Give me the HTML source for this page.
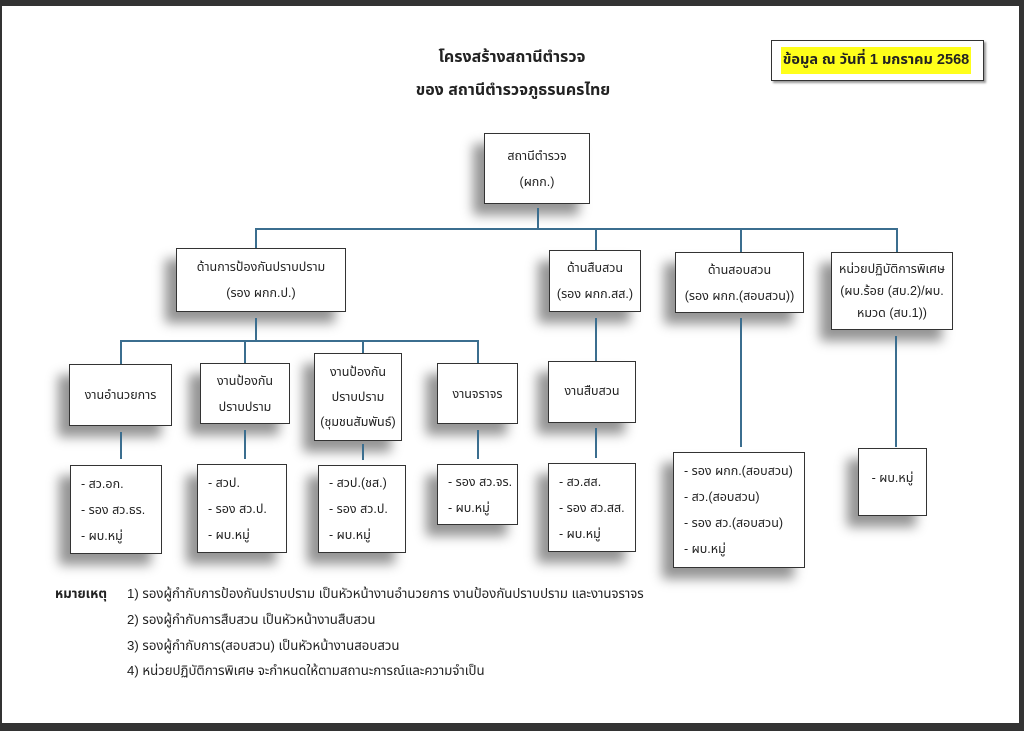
<!DOCTYPE html>
<html><head><meta charset="utf-8"><style>
html,body{margin:0;padding:0;}
body{width:1024px;height:731px;background:#333;position:relative;overflow:hidden;font-family:"Liberation Sans","Noto Sans Thai","Garuda","Loma",sans-serif;color:#222;}
.page{position:absolute;left:2px;top:6px;width:1017px;height:717px;background:#fff;}
.b{position:absolute;background:#fff;border:1.5px solid #333;box-sizing:border-box;box-shadow:-11px 11px 11px rgba(0,0,0,0.42);font-size:12.5px;text-align:center;display:flex;flex-direction:column;justify-content:center;line-height:26px;}
.l{text-align:left;padding-left:10px;}
.h{position:absolute;height:1.5px;background:#3b6e8f;}
.v{position:absolute;width:1.5px;background:#3b6e8f;}
.t{position:absolute;font-size:16px;font-weight:bold;text-align:center;width:400px;}
.n{position:absolute;font-size:13.2px;}
</style></head><body>
<div class="page"></div>
<div class="t" style="left:312px;top:46px">โครงสร้างสถานีตำรวจ</div>
<div class="t" style="left:313px;top:79px">ของ สถานีตำรวจภูธรนครไทย</div>
<div style="position:absolute;left:771px;top:40px;width:213px;height:41px;border:1.5px solid #333;box-sizing:border-box;box-shadow:2px 2px 2px #999;background:#fff"></div>
<div style="position:absolute;left:781px;top:47px;width:190px;height:27px;background:#ffff1a;font-weight:bold;font-size:14.5px;line-height:27px;text-align:center">ข้อมูล ณ วันที่ 1 มกราคม 2568</div>

<div class="b" style="left:484px;top:133px;width:106px;height:71px">สถานีตำรวจ<br>(ผกก.)</div>
<div class="v" style="left:537px;top:208px;height:21px"></div>
<div class="h" style="left:255px;top:228px;width:643px"></div>
<div class="v" style="left:255px;top:228px;height:20px"></div>
<div class="v" style="left:595px;top:228px;height:22px"></div>
<div class="v" style="left:740px;top:228px;height:24px"></div>
<div class="v" style="left:896px;top:228px;height:24px"></div>

<div class="b" style="left:176px;top:248px;width:170px;height:64px">ด้านการป้องกันปราบปราม<br>(รอง ผกก.ป.)</div>
<div class="b" style="left:549px;top:250px;width:92px;height:62px">ด้านสืบสวน<br>(รอง ผกก.สส.)</div>
<div class="b" style="left:675px;top:252px;width:129px;height:61px">ด้านสอบสวน<br>(รอง ผกก.(สอบสวน))</div>
<div class="b" style="left:831px;top:252px;width:122px;height:78px;line-height:22px">หน่วยปฏิบัติการพิเศษ<br>(ผบ.ร้อย (สบ.2)/ผบ.<br>หมวด (สบ.1))</div>

<div class="v" style="left:255px;top:318px;height:22px"></div>
<div class="h" style="left:120px;top:340px;width:358px"></div>
<div class="v" style="left:120px;top:340px;height:24px"></div>
<div class="v" style="left:244px;top:340px;height:23px"></div>
<div class="v" style="left:362px;top:340px;height:13px"></div>
<div class="v" style="left:477px;top:340px;height:23px"></div>
<div class="v" style="left:595px;top:318px;height:43px"></div>
<div class="v" style="left:740px;top:318px;height:129px"></div>
<div class="v" style="left:895px;top:336px;height:111px"></div>

<div class="b" style="left:69px;top:364px;width:103px;height:62px">งานอำนวยการ</div>
<div class="b" style="left:200px;top:363px;width:90px;height:61px">งานป้องกัน<br>ปราบปราม</div>
<div class="b" style="left:314px;top:353px;width:88px;height:88px;line-height:25px">งานป้องกัน<br>ปราบปราม<br>(ชุมชนสัมพันธ์)</div>
<div class="b" style="left:437px;top:363px;width:81px;height:61px">งานจราจร</div>
<div class="b" style="left:548px;top:361px;width:88px;height:62px;justify-content:flex-start;padding-top:16px">งานสืบสวน</div>

<div class="v" style="left:120px;top:432px;height:27px"></div>
<div class="v" style="left:244px;top:430px;height:29px"></div>
<div class="v" style="left:362px;top:444px;height:16px"></div>
<div class="v" style="left:477px;top:430px;height:29px"></div>
<div class="v" style="left:595px;top:428px;height:30px"></div>

<div class="b l" style="left:70px;top:465px;width:92px;height:89px">- สว.อก.<br>- รอง สว.ธร.<br>- ผบ.หมู่</div>
<div class="b l" style="left:197px;top:464px;width:90px;height:89px">- สวป.<br>- รอง สว.ป.<br>- ผบ.หมู่</div>
<div class="b l" style="left:318px;top:465px;width:88px;height:88px">- สวป.(ชส.)<br>- รอง สว.ป.<br>- ผบ.หมู่</div>
<div class="b l" style="left:437px;top:464px;width:81px;height:61px">- รอง สว.จร.<br>- ผบ.หมู่</div>
<div class="b l" style="left:548px;top:463px;width:88px;height:89px">- สว.สส.<br>- รอง สว.สส.<br>- ผบ.หมู่</div>
<div class="b l" style="left:673px;top:452px;width:132px;height:116px">- รอง ผกก.(สอบสวน)<br>- สว.(สอบสวน)<br>- รอง สว.(สอบสวน)<br>- ผบ.หมู่</div>
<div class="b" style="left:858px;top:448px;width:69px;height:68px;justify-content:flex-start;padding-top:20px;line-height:18px">- ผบ.หมู่</div>

<div class="n" style="left:55px;top:584px;font-weight:bold">หมายเหตุ</div>
<div class="n" style="left:127px;top:584px">1) รองผู้กำกับการป้องกันปราบปราม เป็นหัวหน้างานอำนวยการ งานป้องกันปราบปราม และงานจราจร</div>
<div class="n" style="left:127px;top:610px">2) รองผู้กำกับการสืบสวน เป็นหัวหน้างานสืบสวน</div>
<div class="n" style="left:127px;top:636px">3) รองผู้กำกับการ(สอบสวน) เป็นหัวหน้างานสอบสวน</div>
<div class="n" style="left:127px;top:661px">4) หน่วยปฏิบัติการพิเศษ จะกำหนดให้ตามสถานะการณ์และความจำเป็น</div>
</body></html>
